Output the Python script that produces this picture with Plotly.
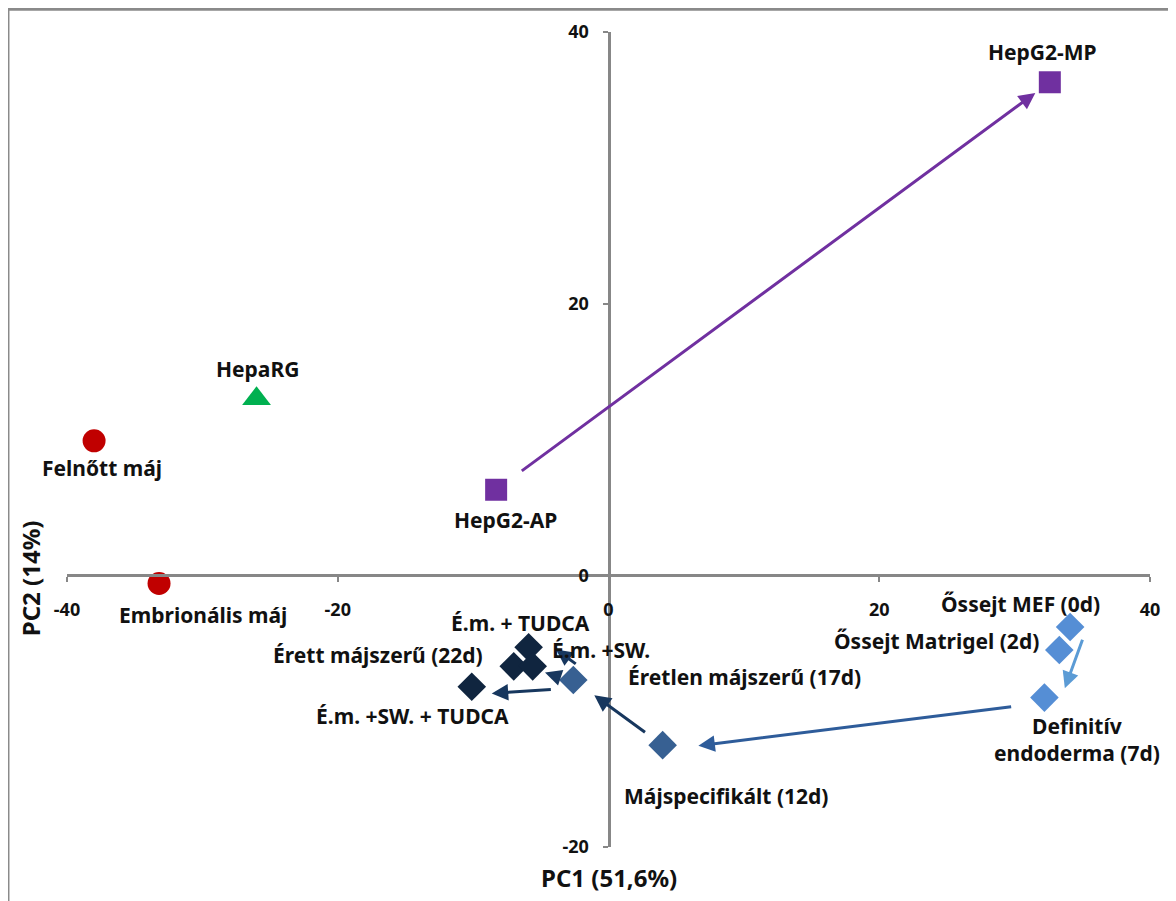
import plotly.graph_objects as go

# ---------------- data ----------------
names = ["HepG2-MP", "HepG2-AP", "HepaRG", "Felnőtt máj", "Embrionális máj",
         "Őssejt MEF (0d)", "Őssejt Matrigel (2d)", "Definitív<br>endoderma (7d)",
         "Májspecifikált (12d)", "Éretlen májszerű (17d)", "É.m. + TUDCA",
         "Érett májszerű (22d)", "É.m. +SW.", "É.m. +SW. + TUDCA"]
pc1 = [32.6, -8.3, -26.0, -38.0, -33.2, 34.1, 33.3, 32.2, 4.0, -2.6, -5.9, -7.0, -5.6, -10.1]
pc2 = [36.3, 6.3, 13.0, 9.9, -0.6, -3.8, -5.5, -9.0, -12.5, -7.7, -5.3, -6.7, -6.7, -8.2]

groups = {
    "hepg2":   dict(idx=[0, 1], symbol="square", color="#7030A0", size=22),
    "heparg":  dict(idx=[2], symbol="triangle-up", color="#00B050", size=25),
    "tissue":  dict(idx=[3, 4], symbol="circle", color="#C00000", size=23),
    "stem":    dict(idx=[5, 6, 7], symbol="diamond", color="#558ED5", size=22),
    "mid":     dict(idx=[8, 9], symbol="diamond", color="#376092", size=22),
    "mature":  dict(idx=[10, 11, 12, 13], symbol="diamond", color="#10253F", size=22),
}

# label offsets in pixels (dx right, dy up)
label_dx = [-7, 9, 1, 8, 44, -50, -123, 33, 63, 171, -8, -136, 68, -59]
label_dy = [30, -30, 30, -27, -32, 23, 9, -42, -51, 3, 24, 11, 16, -29]

# arrows: (from, to, color, startstandoff, standoff, xshift, yshift)
arrows = [
    (1, 0, "#7030A0", 30, 18, 0, 0),
    (5, 7, "#5B9BD5", 12, 10, 17, 0),
    (7, 8, "#2E5C9A", 32, 36, 0, -5),
    (8, 9, "#17375E", 20, 26, 0, 0),
    (9, 10, "#17375E", 5, 24, 8, 12),
    (9, 12, "#17375E", 16, 13, 0, -2),
    (9, 13, "#17375E", 21, 20, 0, -8),
]

FONT = "Noto Sans"

fig = go.Figure()
for g in groups.values():
    fig.add_trace(go.Scatter(
        x=[pc1[i] for i in g["idx"]], y=[pc2[i] for i in g["idx"]],
        mode="markers",
        marker=dict(symbol=g["symbol"], color=g["color"], size=g["size"], line=dict(width=0)),
        showlegend=False, hoverinfo="skip"))

for a, b, col, sso, so, xs, ys in arrows:
    fig.add_annotation(x=pc1[b], y=pc2[b], ax=pc1[a], ay=pc2[a], xref="x", yref="y",
                       axref="x", ayref="y", showarrow=True, arrowhead=2, arrowsize=1.1,
                       arrowwidth=3, arrowcolor=col, standoff=so, startstandoff=sso,
                       xshift=xs, yshift=ys, text="")

lab_font = dict(family=FONT, size=21, color="#111111")
for i, n in enumerate(names):
    fig.add_annotation(x=pc1[i], y=pc2[i], text="<b>" + n + "</b>", showarrow=False,
                       xanchor="center", yanchor="middle", xshift=label_dx[i], yshift=label_dy[i],
                       font=lab_font, align="center")

axis_common = dict(showgrid=False, zeroline=False, showline=True, linecolor="#878787",
                   linewidth=3, ticks="outside", ticklen=5, tickwidth=2, tickcolor="#878787",
                   tickfont=dict(family=FONT, size=18, color="#111111"), mirror=False)

fig.update_layout(
    width=1176, height=901,
    paper_bgcolor="white", plot_bgcolor="white",
    margin=dict(l=59, r=34, t=24, b=62),
    xaxis=dict(range=[-40, 40], tickvals=[-40, -20, 0, 20, 40],
               ticktext=["<b>-40</b>", "<b>-20</b>", "<b>0</b>", "<b>20</b>", "<b>40</b>"],
               anchor="free", position=1/3, ticklabelstandoff=12, **axis_common),
    yaxis=dict(range=[-20, 40], tickvals=[-20, 0, 20, 40],
               ticktext=["<b>-20</b>", "<b>0</b>", "<b>20</b>", "<b>40</b>"],
               anchor="free", position=0.5, ticklabelstandoff=10, **axis_common),
)

# axis titles
fig.add_annotation(x=0.5, y=-0.037, xref="paper", yref="paper", text="<b>PC1 (51,6%)</b>",
                   showarrow=False, xanchor="center", yanchor="middle",
                   font=dict(family=FONT, size=24, color="#111111"))
fig.add_annotation(x=-0.034, y=0.33, xref="paper", yref="paper", text="<b>PC2 (14%)</b>",
                   showarrow=False, xanchor="center", yanchor="middle", textangle=-90,
                   font=dict(family=FONT, size=24, color="#111111"))

# outer frame (top and left edges visible)
fig.add_shape(type="line", xref="paper", yref="paper", x0=-0.0545, x1=1.05, y0=1.028, y1=1.028,
              line=dict(color="#8a8a8a", width=3))
fig.add_shape(type="line", xref="paper", yref="paper", x0=-0.0545, x1=-0.0545, y0=1.028, y1=-0.09,
              line=dict(color="#8a8a8a", width=3))

fig.write_html("out.html")
